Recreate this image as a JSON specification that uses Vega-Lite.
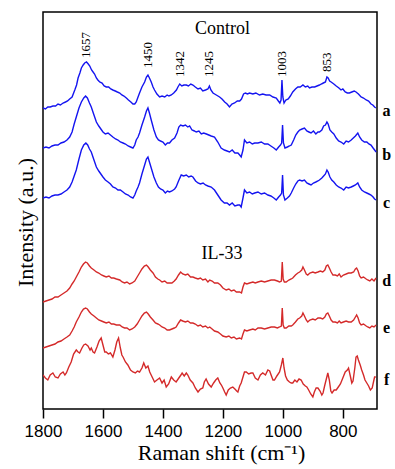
{
"$schema":"https://vega.github.io/schema/vega-lite/v6.json",
"width":334,"height":397,
"autosize":{"type":"none"},
"padding":{"left":43,"top":12,"right":18,"bottom":60},
"config":{"view":{"stroke":"#000","strokeWidth":1.5},"font":"Liberation Serif"},
"layer":[
{"data":{"values":[
{"s":"a","w":1800,"i":301},{"s":"a","w":1792,"i":300},{"s":"a","w":1784,"i":302},{"s":"a","w":1776,"i":302},{"s":"a","w":1767,"i":303},{"s":"a","w":1758,"i":303},{"s":"a","w":1750,"i":305},{"s":"a","w":1742,"i":304},{"s":"a","w":1733,"i":306},{"s":"a","w":1725,"i":307},{"s":"a","w":1718,"i":308},{"s":"a","w":1711,"i":310},{"s":"a","w":1703,"i":312},{"s":"a","w":1694,"i":319},{"s":"a","w":1688,"i":324},{"s":"a","w":1683,"i":331},{"s":"a","w":1677,"i":336},{"s":"a","w":1672,"i":341},{"s":"a","w":1666,"i":344},{"s":"a","w":1661,"i":346},{"s":"a","w":1655,"i":347},{"s":"a","w":1649,"i":345},{"s":"a","w":1644,"i":343},{"s":"a","w":1638,"i":339},{"s":"a","w":1633,"i":337},{"s":"a","w":1628,"i":335},{"s":"a","w":1622,"i":331},{"s":"a","w":1617,"i":329},{"s":"a","w":1611,"i":327},{"s":"a","w":1603,"i":326},{"s":"a","w":1596,"i":323},{"s":"a","w":1589,"i":322},{"s":"a","w":1581,"i":322},{"s":"a","w":1574,"i":320},{"s":"a","w":1567,"i":319},{"s":"a","w":1559,"i":318},{"s":"a","w":1552,"i":317},{"s":"a","w":1544,"i":316},{"s":"a","w":1537,"i":314},{"s":"a","w":1530,"i":313},{"s":"a","w":1522,"i":311},{"s":"a","w":1515,"i":309},{"s":"a","w":1507,"i":307},{"s":"a","w":1500,"i":305},{"s":"a","w":1494,"i":305},{"s":"a","w":1489,"i":307},{"s":"a","w":1483,"i":312},{"s":"a","w":1478,"i":316},{"s":"a","w":1470,"i":322},{"s":"a","w":1461,"i":327},{"s":"a","w":1455,"i":332},{"s":"a","w":1450,"i":334},{"s":"a","w":1445,"i":331},{"s":"a","w":1439,"i":327},{"s":"a","w":1433,"i":322},{"s":"a","w":1428,"i":319},{"s":"a","w":1420,"i":315},{"s":"a","w":1411,"i":312},{"s":"a","w":1403,"i":313},{"s":"a","w":1394,"i":312},{"s":"a","w":1386,"i":314},{"s":"a","w":1380,"i":313},{"s":"a","w":1372,"i":314},{"s":"a","w":1364,"i":316},{"s":"a","w":1355,"i":319},{"s":"a","w":1350,"i":322},{"s":"a","w":1344,"i":325},{"s":"a","w":1337,"i":323},{"s":"a","w":1330,"i":324},{"s":"a","w":1322,"i":324},{"s":"a","w":1315,"i":323},{"s":"a","w":1307,"i":325},{"s":"a","w":1300,"i":324},{"s":"a","w":1292,"i":322},{"s":"a","w":1283,"i":320},{"s":"a","w":1275,"i":321},{"s":"a","w":1267,"i":318},{"s":"a","w":1258,"i":319},{"s":"a","w":1250,"i":320},{"s":"a","w":1245,"i":323},{"s":"a","w":1240,"i":319},{"s":"a","w":1233,"i":316},{"s":"a","w":1222,"i":314},{"s":"a","w":1211,"i":312},{"s":"a","w":1203,"i":310},{"s":"a","w":1194,"i":307},{"s":"a","w":1186,"i":305},{"s":"a","w":1178,"i":302},{"s":"a","w":1170,"i":305},{"s":"a","w":1161,"i":306},{"s":"a","w":1152,"i":308},{"s":"a","w":1144,"i":308},{"s":"a","w":1138,"i":310},{"s":"a","w":1131,"i":315},{"s":"a","w":1125,"i":316},{"s":"a","w":1118,"i":315},{"s":"a","w":1111,"i":316},{"s":"a","w":1100,"i":315},{"s":"a","w":1090,"i":316},{"s":"a","w":1078,"i":314},{"s":"a","w":1067,"i":315},{"s":"a","w":1056,"i":314},{"s":"a","w":1044,"i":314},{"s":"a","w":1033,"i":312},{"s":"a","w":1022,"i":311},{"s":"a","w":1015,"i":308},{"s":"a","w":1010,"i":306},{"s":"a","w":1006,"i":309},{"s":"a","w":1003,"i":329},{"s":"a","w":1000,"i":312},{"s":"a","w":996,"i":306},{"s":"a","w":990,"i":309},{"s":"a","w":982,"i":310},{"s":"a","w":975,"i":313},{"s":"a","w":967,"i":317},{"s":"a","w":958,"i":320},{"s":"a","w":950,"i":322},{"s":"a","w":942,"i":322},{"s":"a","w":933,"i":324},{"s":"a","w":925,"i":322},{"s":"a","w":917,"i":323},{"s":"a","w":911,"i":321},{"s":"a","w":903,"i":322},{"s":"a","w":894,"i":322},{"s":"a","w":886,"i":323},{"s":"a","w":878,"i":324},{"s":"a","w":872,"i":325},{"s":"a","w":865,"i":326},{"s":"a","w":858,"i":327},{"s":"a","w":853,"i":332},{"s":"a","w":849,"i":331},{"s":"a","w":844,"i":328},{"s":"a","w":839,"i":327},{"s":"a","w":830,"i":325},{"s":"a","w":822,"i":323},{"s":"a","w":813,"i":321},{"s":"a","w":806,"i":319},{"s":"a","w":800,"i":320},{"s":"a","w":792,"i":317},{"s":"a","w":785,"i":316},{"s":"a","w":778,"i":316},{"s":"a","w":770,"i":317},{"s":"a","w":762,"i":318},{"s":"a","w":756,"i":317},{"s":"a","w":748,"i":315},{"s":"a","w":739,"i":312},{"s":"a","w":731,"i":311},{"s":"a","w":722,"i":309},{"s":"a","w":714,"i":308},{"s":"a","w":706,"i":305},{"s":"a","w":700,"i":304},{"s":"a","w":694,"i":302},{"s":"a","w":690,"i":301},
{"s":"b","w":1800,"i":261},{"s":"b","w":1790,"i":262},{"s":"b","w":1780,"i":261},{"s":"b","w":1770,"i":263},{"s":"b","w":1760,"i":264},{"s":"b","w":1750,"i":264},{"s":"b","w":1740,"i":266},{"s":"b","w":1730,"i":267},{"s":"b","w":1720,"i":269},{"s":"b","w":1711,"i":272},{"s":"b","w":1703,"i":277},{"s":"b","w":1696,"i":285},{"s":"b","w":1689,"i":292},{"s":"b","w":1680,"i":301},{"s":"b","w":1672,"i":307},{"s":"b","w":1664,"i":311},{"s":"b","w":1658,"i":313},{"s":"b","w":1652,"i":311},{"s":"b","w":1645,"i":306},{"s":"b","w":1639,"i":302},{"s":"b","w":1630,"i":294},{"s":"b","w":1622,"i":287},{"s":"b","w":1614,"i":283},{"s":"b","w":1607,"i":280},{"s":"b","w":1600,"i":277},{"s":"b","w":1592,"i":275},{"s":"b","w":1583,"i":276},{"s":"b","w":1575,"i":274},{"s":"b","w":1567,"i":272},{"s":"b","w":1558,"i":270},{"s":"b","w":1550,"i":269},{"s":"b","w":1542,"i":267},{"s":"b","w":1533,"i":266},{"s":"b","w":1525,"i":265},{"s":"b","w":1516,"i":263},{"s":"b","w":1508,"i":262},{"s":"b","w":1500,"i":261},{"s":"b","w":1494,"i":264},{"s":"b","w":1489,"i":269},{"s":"b","w":1483,"i":272},{"s":"b","w":1478,"i":276},{"s":"b","w":1470,"i":284},{"s":"b","w":1461,"i":292},{"s":"b","w":1455,"i":298},{"s":"b","w":1450,"i":301},{"s":"b","w":1445,"i":296},{"s":"b","w":1439,"i":289},{"s":"b","w":1430,"i":279},{"s":"b","w":1422,"i":272},{"s":"b","w":1415,"i":269},{"s":"b","w":1408,"i":268},{"s":"b","w":1400,"i":267},{"s":"b","w":1392,"i":264},{"s":"b","w":1385,"i":266},{"s":"b","w":1378,"i":266},{"s":"b","w":1370,"i":269},{"s":"b","w":1361,"i":271},{"s":"b","w":1353,"i":276},{"s":"b","w":1347,"i":282},{"s":"b","w":1341,"i":284},{"s":"b","w":1333,"i":283},{"s":"b","w":1325,"i":284},{"s":"b","w":1317,"i":282},{"s":"b","w":1311,"i":283},{"s":"b","w":1303,"i":279},{"s":"b","w":1295,"i":278},{"s":"b","w":1289,"i":277},{"s":"b","w":1280,"i":278},{"s":"b","w":1272,"i":275},{"s":"b","w":1264,"i":276},{"s":"b","w":1255,"i":275},{"s":"b","w":1247,"i":274},{"s":"b","w":1239,"i":273},{"s":"b","w":1228,"i":272},{"s":"b","w":1217,"i":267},{"s":"b","w":1206,"i":261},{"s":"b","w":1195,"i":259},{"s":"b","w":1186,"i":258},{"s":"b","w":1178,"i":257},{"s":"b","w":1169,"i":259},{"s":"b","w":1160,"i":256},{"s":"b","w":1150,"i":256},{"s":"b","w":1144,"i":254},{"s":"b","w":1139,"i":252},{"s":"b","w":1133,"i":259},{"s":"b","w":1128,"i":269},{"s":"b","w":1120,"i":266},{"s":"b","w":1111,"i":267},{"s":"b","w":1102,"i":265},{"s":"b","w":1094,"i":266},{"s":"b","w":1083,"i":266},{"s":"b","w":1072,"i":267},{"s":"b","w":1061,"i":265},{"s":"b","w":1050,"i":265},{"s":"b","w":1040,"i":263},{"s":"b","w":1030,"i":261},{"s":"b","w":1022,"i":259},{"s":"b","w":1014,"i":262},{"s":"b","w":1008,"i":264},{"s":"b","w":1004,"i":266},{"s":"b","w":1001,"i":284},{"s":"b","w":998,"i":266},{"s":"b","w":993,"i":261},{"s":"b","w":985,"i":262},{"s":"b","w":978,"i":263},{"s":"b","w":972,"i":264},{"s":"b","w":964,"i":269},{"s":"b","w":957,"i":274},{"s":"b","w":950,"i":277},{"s":"b","w":944,"i":279},{"s":"b","w":936,"i":280},{"s":"b","w":928,"i":281},{"s":"b","w":920,"i":278},{"s":"b","w":913,"i":277},{"s":"b","w":906,"i":276},{"s":"b","w":898,"i":278},{"s":"b","w":890,"i":275},{"s":"b","w":883,"i":277},{"s":"b","w":878,"i":277},{"s":"b","w":870,"i":279},{"s":"b","w":864,"i":283},{"s":"b","w":858,"i":284},{"s":"b","w":853,"i":287},{"s":"b","w":849,"i":285},{"s":"b","w":843,"i":279},{"s":"b","w":837,"i":277},{"s":"b","w":830,"i":275},{"s":"b","w":822,"i":271},{"s":"b","w":814,"i":268},{"s":"b","w":806,"i":267},{"s":"b","w":797,"i":265},{"s":"b","w":789,"i":268},{"s":"b","w":781,"i":267},{"s":"b","w":772,"i":269},{"s":"b","w":765,"i":271},{"s":"b","w":758,"i":273},{"s":"b","w":750,"i":276},{"s":"b","w":744,"i":272},{"s":"b","w":737,"i":269},{"s":"b","w":728,"i":267},{"s":"b","w":720,"i":267},{"s":"b","w":713,"i":265},{"s":"b","w":706,"i":264},{"s":"b","w":699,"i":261},{"s":"b","w":694,"i":259},{"s":"b","w":689,"i":257},
{"s":"c","w":1800,"i":211},{"s":"c","w":1790,"i":212},{"s":"c","w":1780,"i":211},{"s":"c","w":1770,"i":213},{"s":"c","w":1760,"i":214},{"s":"c","w":1750,"i":214},{"s":"c","w":1740,"i":215},{"s":"c","w":1730,"i":217},{"s":"c","w":1720,"i":219},{"s":"c","w":1711,"i":222},{"s":"c","w":1703,"i":227},{"s":"c","w":1696,"i":233},{"s":"c","w":1689,"i":239},{"s":"c","w":1680,"i":250},{"s":"c","w":1672,"i":259},{"s":"c","w":1664,"i":264},{"s":"c","w":1657,"i":266},{"s":"c","w":1651,"i":264},{"s":"c","w":1645,"i":260},{"s":"c","w":1639,"i":257},{"s":"c","w":1630,"i":249},{"s":"c","w":1622,"i":242},{"s":"c","w":1614,"i":238},{"s":"c","w":1607,"i":235},{"s":"c","w":1600,"i":232},{"s":"c","w":1592,"i":229},{"s":"c","w":1583,"i":227},{"s":"c","w":1575,"i":225},{"s":"c","w":1567,"i":222},{"s":"c","w":1558,"i":221},{"s":"c","w":1550,"i":219},{"s":"c","w":1542,"i":219},{"s":"c","w":1533,"i":217},{"s":"c","w":1525,"i":215},{"s":"c","w":1516,"i":214},{"s":"c","w":1508,"i":212},{"s":"c","w":1500,"i":211},{"s":"c","w":1494,"i":214},{"s":"c","w":1489,"i":218},{"s":"c","w":1483,"i":222},{"s":"c","w":1478,"i":226},{"s":"c","w":1470,"i":235},{"s":"c","w":1461,"i":244},{"s":"c","w":1455,"i":250},{"s":"c","w":1450,"i":252},{"s":"c","w":1445,"i":247},{"s":"c","w":1439,"i":241},{"s":"c","w":1430,"i":232},{"s":"c","w":1422,"i":226},{"s":"c","w":1415,"i":222},{"s":"c","w":1408,"i":220},{"s":"c","w":1400,"i":219},{"s":"c","w":1392,"i":216},{"s":"c","w":1385,"i":218},{"s":"c","w":1378,"i":217},{"s":"c","w":1370,"i":218},{"s":"c","w":1361,"i":220},{"s":"c","w":1356,"i":222},{"s":"c","w":1348,"i":228},{"s":"c","w":1339,"i":234},{"s":"c","w":1331,"i":233},{"s":"c","w":1322,"i":234},{"s":"c","w":1314,"i":232},{"s":"c","w":1306,"i":233},{"s":"c","w":1300,"i":232},{"s":"c","w":1291,"i":228},{"s":"c","w":1283,"i":226},{"s":"c","w":1275,"i":225},{"s":"c","w":1266,"i":226},{"s":"c","w":1258,"i":224},{"s":"c","w":1250,"i":223},{"s":"c","w":1239,"i":222},{"s":"c","w":1228,"i":219},{"s":"c","w":1217,"i":214},{"s":"c","w":1206,"i":209},{"s":"c","w":1195,"i":206},{"s":"c","w":1186,"i":206},{"s":"c","w":1178,"i":204},{"s":"c","w":1169,"i":206},{"s":"c","w":1160,"i":203},{"s":"c","w":1150,"i":204},{"s":"c","w":1144,"i":204},{"s":"c","w":1139,"i":202},{"s":"c","w":1133,"i":211},{"s":"c","w":1128,"i":219},{"s":"c","w":1120,"i":216},{"s":"c","w":1111,"i":217},{"s":"c","w":1102,"i":215},{"s":"c","w":1094,"i":216},{"s":"c","w":1083,"i":217},{"s":"c","w":1072,"i":215},{"s":"c","w":1061,"i":216},{"s":"c","w":1050,"i":214},{"s":"c","w":1040,"i":213},{"s":"c","w":1030,"i":211},{"s":"c","w":1022,"i":209},{"s":"c","w":1014,"i":212},{"s":"c","w":1008,"i":214},{"s":"c","w":1004,"i":216},{"s":"c","w":1001,"i":234},{"s":"c","w":998,"i":214},{"s":"c","w":993,"i":209},{"s":"c","w":985,"i":211},{"s":"c","w":978,"i":213},{"s":"c","w":972,"i":216},{"s":"c","w":964,"i":221},{"s":"c","w":957,"i":225},{"s":"c","w":950,"i":228},{"s":"c","w":944,"i":229},{"s":"c","w":936,"i":228},{"s":"c","w":928,"i":229},{"s":"c","w":920,"i":226},{"s":"c","w":913,"i":225},{"s":"c","w":906,"i":224},{"s":"c","w":898,"i":226},{"s":"c","w":890,"i":227},{"s":"c","w":883,"i":228},{"s":"c","w":878,"i":229},{"s":"c","w":870,"i":231},{"s":"c","w":864,"i":233},{"s":"c","w":858,"i":235},{"s":"c","w":853,"i":239},{"s":"c","w":849,"i":237},{"s":"c","w":843,"i":232},{"s":"c","w":837,"i":229},{"s":"c","w":830,"i":227},{"s":"c","w":822,"i":224},{"s":"c","w":814,"i":222},{"s":"c","w":806,"i":221},{"s":"c","w":797,"i":219},{"s":"c","w":789,"i":222},{"s":"c","w":781,"i":221},{"s":"c","w":772,"i":222},{"s":"c","w":765,"i":223},{"s":"c","w":758,"i":224},{"s":"c","w":750,"i":226},{"s":"c","w":744,"i":222},{"s":"c","w":737,"i":219},{"s":"c","w":728,"i":217},{"s":"c","w":720,"i":216},{"s":"c","w":713,"i":215},{"s":"c","w":706,"i":214},{"s":"c","w":699,"i":212},{"s":"c","w":694,"i":210},{"s":"c","w":689,"i":209},
{"s":"d","w":1800,"i":107},{"s":"d","w":1790,"i":108},{"s":"d","w":1780,"i":109},{"s":"d","w":1770,"i":110},{"s":"d","w":1760,"i":112},{"s":"d","w":1750,"i":112},{"s":"d","w":1740,"i":114},{"s":"d","w":1730,"i":116},{"s":"d","w":1720,"i":118},{"s":"d","w":1711,"i":121},{"s":"d","w":1703,"i":125},{"s":"d","w":1696,"i":128},{"s":"d","w":1689,"i":132},{"s":"d","w":1680,"i":137},{"s":"d","w":1672,"i":142},{"s":"d","w":1665,"i":145},{"s":"d","w":1658,"i":147},{"s":"d","w":1652,"i":146},{"s":"d","w":1645,"i":143},{"s":"d","w":1639,"i":141},{"s":"d","w":1630,"i":139},{"s":"d","w":1622,"i":137},{"s":"d","w":1614,"i":136},{"s":"d","w":1605,"i":134},{"s":"d","w":1597,"i":133},{"s":"d","w":1589,"i":132},{"s":"d","w":1580,"i":133},{"s":"d","w":1572,"i":131},{"s":"d","w":1564,"i":131},{"s":"d","w":1555,"i":130},{"s":"d","w":1544,"i":129},{"s":"d","w":1536,"i":127},{"s":"d","w":1528,"i":126},{"s":"d","w":1520,"i":127},{"s":"d","w":1511,"i":125},{"s":"d","w":1503,"i":126},{"s":"d","w":1494,"i":128},{"s":"d","w":1486,"i":132},{"s":"d","w":1478,"i":136},{"s":"d","w":1470,"i":140},{"s":"d","w":1462,"i":143},{"s":"d","w":1455,"i":144},{"s":"d","w":1449,"i":142},{"s":"d","w":1442,"i":139},{"s":"d","w":1433,"i":136},{"s":"d","w":1425,"i":132},{"s":"d","w":1417,"i":130},{"s":"d","w":1411,"i":129},{"s":"d","w":1403,"i":127},{"s":"d","w":1394,"i":128},{"s":"d","w":1386,"i":126},{"s":"d","w":1378,"i":126},{"s":"d","w":1370,"i":126},{"s":"d","w":1362,"i":128},{"s":"d","w":1356,"i":130},{"s":"d","w":1348,"i":134},{"s":"d","w":1341,"i":137},{"s":"d","w":1334,"i":135},{"s":"d","w":1325,"i":134},{"s":"d","w":1317,"i":135},{"s":"d","w":1308,"i":132},{"s":"d","w":1300,"i":132},{"s":"d","w":1292,"i":131},{"s":"d","w":1283,"i":130},{"s":"d","w":1275,"i":131},{"s":"d","w":1267,"i":129},{"s":"d","w":1258,"i":130},{"s":"d","w":1250,"i":127},{"s":"d","w":1244,"i":129},{"s":"d","w":1236,"i":128},{"s":"d","w":1228,"i":126},{"s":"d","w":1217,"i":126},{"s":"d","w":1208,"i":124},{"s":"d","w":1200,"i":121},{"s":"d","w":1189,"i":119},{"s":"d","w":1180,"i":120},{"s":"d","w":1172,"i":118},{"s":"d","w":1163,"i":119},{"s":"d","w":1155,"i":117},{"s":"d","w":1144,"i":117},{"s":"d","w":1138,"i":116},{"s":"d","w":1133,"i":122},{"s":"d","w":1128,"i":126},{"s":"d","w":1120,"i":125},{"s":"d","w":1111,"i":126},{"s":"d","w":1100,"i":127},{"s":"d","w":1092,"i":126},{"s":"d","w":1083,"i":127},{"s":"d","w":1072,"i":128},{"s":"d","w":1061,"i":127},{"s":"d","w":1050,"i":128},{"s":"d","w":1039,"i":129},{"s":"d","w":1028,"i":129},{"s":"d","w":1018,"i":128},{"s":"d","w":1011,"i":127},{"s":"d","w":1005,"i":128},{"s":"d","w":1002,"i":147},{"s":"d","w":999,"i":130},{"s":"d","w":995,"i":127},{"s":"d","w":989,"i":127},{"s":"d","w":980,"i":129},{"s":"d","w":972,"i":130},{"s":"d","w":967,"i":131},{"s":"d","w":958,"i":134},{"s":"d","w":950,"i":136},{"s":"d","w":944,"i":137},{"s":"d","w":937,"i":139},{"s":"d","w":933,"i":142},{"s":"d","w":928,"i":139},{"s":"d","w":922,"i":135},{"s":"d","w":917,"i":134},{"s":"d","w":910,"i":136},{"s":"d","w":900,"i":137},{"s":"d","w":892,"i":136},{"s":"d","w":883,"i":137},{"s":"d","w":875,"i":138},{"s":"d","w":867,"i":137},{"s":"d","w":860,"i":139},{"s":"d","w":855,"i":143},{"s":"d","w":850,"i":144},{"s":"d","w":845,"i":141},{"s":"d","w":839,"i":137},{"s":"d","w":833,"i":134},{"s":"d","w":825,"i":134},{"s":"d","w":818,"i":133},{"s":"d","w":812,"i":135},{"s":"d","w":806,"i":132},{"s":"d","w":798,"i":134},{"s":"d","w":789,"i":135},{"s":"d","w":781,"i":136},{"s":"d","w":772,"i":136},{"s":"d","w":764,"i":137},{"s":"d","w":758,"i":140},{"s":"d","w":754,"i":141},{"s":"d","w":749,"i":138},{"s":"d","w":744,"i":133},{"s":"d","w":739,"i":131},{"s":"d","w":731,"i":132},{"s":"d","w":722,"i":130},{"s":"d","w":717,"i":129},{"s":"d","w":710,"i":128},{"s":"d","w":703,"i":130},{"s":"d","w":696,"i":128},{"s":"d","w":689,"i":131},
{"s":"e","w":1800,"i":61},{"s":"e","w":1790,"i":62},{"s":"e","w":1780,"i":63},{"s":"e","w":1770,"i":64},{"s":"e","w":1760,"i":65},{"s":"e","w":1750,"i":67},{"s":"e","w":1740,"i":68},{"s":"e","w":1730,"i":70},{"s":"e","w":1720,"i":72},{"s":"e","w":1711,"i":74},{"s":"e","w":1703,"i":78},{"s":"e","w":1696,"i":82},{"s":"e","w":1689,"i":87},{"s":"e","w":1680,"i":92},{"s":"e","w":1672,"i":97},{"s":"e","w":1665,"i":100},{"s":"e","w":1658,"i":101},{"s":"e","w":1652,"i":100},{"s":"e","w":1645,"i":97},{"s":"e","w":1639,"i":95},{"s":"e","w":1630,"i":93},{"s":"e","w":1622,"i":91},{"s":"e","w":1614,"i":89},{"s":"e","w":1605,"i":88},{"s":"e","w":1597,"i":87},{"s":"e","w":1589,"i":86},{"s":"e","w":1580,"i":87},{"s":"e","w":1572,"i":85},{"s":"e","w":1564,"i":85},{"s":"e","w":1555,"i":84},{"s":"e","w":1544,"i":84},{"s":"e","w":1536,"i":82},{"s":"e","w":1528,"i":81},{"s":"e","w":1520,"i":81},{"s":"e","w":1511,"i":79},{"s":"e","w":1503,"i":80},{"s":"e","w":1494,"i":82},{"s":"e","w":1486,"i":85},{"s":"e","w":1478,"i":89},{"s":"e","w":1470,"i":93},{"s":"e","w":1462,"i":96},{"s":"e","w":1455,"i":97},{"s":"e","w":1449,"i":95},{"s":"e","w":1442,"i":92},{"s":"e","w":1433,"i":89},{"s":"e","w":1425,"i":86},{"s":"e","w":1417,"i":85},{"s":"e","w":1411,"i":84},{"s":"e","w":1403,"i":82},{"s":"e","w":1394,"i":81},{"s":"e","w":1386,"i":79},{"s":"e","w":1378,"i":79},{"s":"e","w":1370,"i":80},{"s":"e","w":1362,"i":81},{"s":"e","w":1356,"i":82},{"s":"e","w":1348,"i":86},{"s":"e","w":1341,"i":89},{"s":"e","w":1334,"i":88},{"s":"e","w":1325,"i":87},{"s":"e","w":1317,"i":88},{"s":"e","w":1308,"i":86},{"s":"e","w":1300,"i":86},{"s":"e","w":1292,"i":85},{"s":"e","w":1283,"i":83},{"s":"e","w":1275,"i":84},{"s":"e","w":1267,"i":82},{"s":"e","w":1258,"i":83},{"s":"e","w":1250,"i":81},{"s":"e","w":1244,"i":82},{"s":"e","w":1236,"i":80},{"s":"e","w":1228,"i":78},{"s":"e","w":1217,"i":77},{"s":"e","w":1208,"i":75},{"s":"e","w":1200,"i":73},{"s":"e","w":1189,"i":72},{"s":"e","w":1180,"i":73},{"s":"e","w":1172,"i":71},{"s":"e","w":1163,"i":72},{"s":"e","w":1155,"i":70},{"s":"e","w":1144,"i":71},{"s":"e","w":1138,"i":70},{"s":"e","w":1133,"i":75},{"s":"e","w":1128,"i":79},{"s":"e","w":1120,"i":78},{"s":"e","w":1111,"i":79},{"s":"e","w":1100,"i":80},{"s":"e","w":1092,"i":79},{"s":"e","w":1083,"i":81},{"s":"e","w":1072,"i":81},{"s":"e","w":1061,"i":80},{"s":"e","w":1050,"i":81},{"s":"e","w":1039,"i":82},{"s":"e","w":1028,"i":82},{"s":"e","w":1018,"i":81},{"s":"e","w":1011,"i":82},{"s":"e","w":1005,"i":83},{"s":"e","w":1002,"i":101},{"s":"e","w":999,"i":84},{"s":"e","w":995,"i":81},{"s":"e","w":989,"i":81},{"s":"e","w":980,"i":83},{"s":"e","w":972,"i":83},{"s":"e","w":967,"i":84},{"s":"e","w":958,"i":87},{"s":"e","w":950,"i":90},{"s":"e","w":944,"i":91},{"s":"e","w":937,"i":93},{"s":"e","w":933,"i":96},{"s":"e","w":928,"i":93},{"s":"e","w":922,"i":89},{"s":"e","w":917,"i":87},{"s":"e","w":910,"i":89},{"s":"e","w":900,"i":90},{"s":"e","w":892,"i":89},{"s":"e","w":883,"i":91},{"s":"e","w":875,"i":91},{"s":"e","w":867,"i":90},{"s":"e","w":860,"i":92},{"s":"e","w":855,"i":95},{"s":"e","w":850,"i":96},{"s":"e","w":845,"i":93},{"s":"e","w":839,"i":89},{"s":"e","w":833,"i":87},{"s":"e","w":825,"i":87},{"s":"e","w":818,"i":86},{"s":"e","w":812,"i":88},{"s":"e","w":806,"i":86},{"s":"e","w":798,"i":87},{"s":"e","w":789,"i":88},{"s":"e","w":781,"i":87},{"s":"e","w":772,"i":87},{"s":"e","w":764,"i":89},{"s":"e","w":758,"i":92},{"s":"e","w":754,"i":94},{"s":"e","w":749,"i":91},{"s":"e","w":744,"i":86},{"s":"e","w":739,"i":84},{"s":"e","w":731,"i":85},{"s":"e","w":722,"i":83},{"s":"e","w":717,"i":82},{"s":"e","w":710,"i":81},{"s":"e","w":703,"i":83},{"s":"e","w":696,"i":82},{"s":"e","w":689,"i":84},
{"s":"f","w":1800,"i":34},{"s":"f","w":1792,"i":31},{"s":"f","w":1784,"i":29},{"s":"f","w":1776,"i":34},{"s":"f","w":1767,"i":36},{"s":"f","w":1759,"i":32},{"s":"f","w":1750,"i":31},{"s":"f","w":1742,"i":35},{"s":"f","w":1733,"i":37},{"s":"f","w":1727,"i":34},{"s":"f","w":1722,"i":36},{"s":"f","w":1714,"i":42},{"s":"f","w":1706,"i":47},{"s":"f","w":1698,"i":55},{"s":"f","w":1689,"i":59},{"s":"f","w":1683,"i":57},{"s":"f","w":1678,"i":56},{"s":"f","w":1670,"i":61},{"s":"f","w":1664,"i":64},{"s":"f","w":1658,"i":65},{"s":"f","w":1650,"i":63},{"s":"f","w":1643,"i":59},{"s":"f","w":1639,"i":61},{"s":"f","w":1633,"i":57},{"s":"f","w":1628,"i":56},{"s":"f","w":1620,"i":62},{"s":"f","w":1613,"i":68},{"s":"f","w":1606,"i":71},{"s":"f","w":1600,"i":64},{"s":"f","w":1594,"i":57},{"s":"f","w":1589,"i":57},{"s":"f","w":1582,"i":55},{"s":"f","w":1575,"i":56},{"s":"f","w":1567,"i":52},{"s":"f","w":1560,"i":59},{"s":"f","w":1554,"i":67},{"s":"f","w":1548,"i":71},{"s":"f","w":1542,"i":61},{"s":"f","w":1537,"i":54},{"s":"f","w":1533,"i":52},{"s":"f","w":1525,"i":47},{"s":"f","w":1517,"i":44},{"s":"f","w":1508,"i":39},{"s":"f","w":1500,"i":37},{"s":"f","w":1492,"i":36},{"s":"f","w":1485,"i":38},{"s":"f","w":1478,"i":37},{"s":"f","w":1470,"i":41},{"s":"f","w":1464,"i":46},{"s":"f","w":1457,"i":41},{"s":"f","w":1450,"i":43},{"s":"f","w":1444,"i":37},{"s":"f","w":1436,"i":32},{"s":"f","w":1428,"i":27},{"s":"f","w":1420,"i":29},{"s":"f","w":1411,"i":31},{"s":"f","w":1403,"i":26},{"s":"f","w":1396,"i":29},{"s":"f","w":1389,"i":22},{"s":"f","w":1381,"i":25},{"s":"f","w":1372,"i":32},{"s":"f","w":1364,"i":29},{"s":"f","w":1356,"i":27},{"s":"f","w":1347,"i":31},{"s":"f","w":1340,"i":34},{"s":"f","w":1336,"i":36},{"s":"f","w":1329,"i":33},{"s":"f","w":1322,"i":36},{"s":"f","w":1317,"i":34},{"s":"f","w":1309,"i":29},{"s":"f","w":1300,"i":26},{"s":"f","w":1292,"i":21},{"s":"f","w":1283,"i":17},{"s":"f","w":1275,"i":20},{"s":"f","w":1267,"i":21},{"s":"f","w":1262,"i":27},{"s":"f","w":1256,"i":30},{"s":"f","w":1248,"i":25},{"s":"f","w":1239,"i":22},{"s":"f","w":1231,"i":26},{"s":"f","w":1224,"i":29},{"s":"f","w":1217,"i":31},{"s":"f","w":1210,"i":26},{"s":"f","w":1205,"i":24},{"s":"f","w":1200,"i":21},{"s":"f","w":1194,"i":17},{"s":"f","w":1189,"i":14},{"s":"f","w":1182,"i":19},{"s":"f","w":1175,"i":21},{"s":"f","w":1167,"i":22},{"s":"f","w":1160,"i":20},{"s":"f","w":1154,"i":18},{"s":"f","w":1150,"i":17},{"s":"f","w":1144,"i":23},{"s":"f","w":1139,"i":26},{"s":"f","w":1133,"i":32},{"s":"f","w":1128,"i":37},{"s":"f","w":1122,"i":37},{"s":"f","w":1114,"i":35},{"s":"f","w":1106,"i":36},{"s":"f","w":1100,"i":36},{"s":"f","w":1092,"i":31},{"s":"f","w":1083,"i":29},{"s":"f","w":1075,"i":34},{"s":"f","w":1067,"i":36},{"s":"f","w":1058,"i":34},{"s":"f","w":1050,"i":39},{"s":"f","w":1044,"i":38},{"s":"f","w":1038,"i":33},{"s":"f","w":1033,"i":29},{"s":"f","w":1028,"i":29},{"s":"f","w":1020,"i":33},{"s":"f","w":1011,"i":37},{"s":"f","w":1005,"i":44},{"s":"f","w":1000,"i":51},{"s":"f","w":996,"i":41},{"s":"f","w":991,"i":33},{"s":"f","w":985,"i":29},{"s":"f","w":978,"i":27},{"s":"f","w":972,"i":26},{"s":"f","w":967,"i":26},{"s":"f","w":960,"i":29},{"s":"f","w":953,"i":27},{"s":"f","w":946,"i":30},{"s":"f","w":939,"i":29},{"s":"f","w":932,"i":25},{"s":"f","w":925,"i":23},{"s":"f","w":920,"i":22},{"s":"f","w":914,"i":19},{"s":"f","w":907,"i":15},{"s":"f","w":900,"i":12},{"s":"f","w":895,"i":17},{"s":"f","w":889,"i":21},{"s":"f","w":883,"i":21},{"s":"f","w":876,"i":18},{"s":"f","w":870,"i":14},{"s":"f","w":866,"i":16},{"s":"f","w":860,"i":24},{"s":"f","w":855,"i":30},{"s":"f","w":850,"i":36},{"s":"f","w":845,"i":29},{"s":"f","w":840,"i":18},{"s":"f","w":836,"i":16},{"s":"f","w":829,"i":19},{"s":"f","w":822,"i":19},{"s":"f","w":815,"i":22},{"s":"f","w":808,"i":25},{"s":"f","w":800,"i":31},{"s":"f","w":792,"i":37},{"s":"f","w":785,"i":39},{"s":"f","w":781,"i":41},{"s":"f","w":775,"i":33},{"s":"f","w":770,"i":26},{"s":"f","w":766,"i":28},{"s":"f","w":760,"i":41},{"s":"f","w":756,"i":52},{"s":"f","w":752,"i":53},{"s":"f","w":748,"i":49},{"s":"f","w":742,"i":44},{"s":"f","w":737,"i":39},{"s":"f","w":731,"i":34},{"s":"f","w":726,"i":29},{"s":"f","w":720,"i":26},{"s":"f","w":714,"i":23},{"s":"f","w":708,"i":19},{"s":"f","w":702,"i":21},{"s":"f","w":697,"i":28},{"s":"f","w":694,"i":32},{"s":"f","w":690,"i":32}
]},
"mark":{"type":"line","strokeWidth":1.4,"clip":true},
"encoding":{
"x":{"field":"w","type":"quantitative","scale":{"domain":[686,1800],"reverse":true,"nice":false,"zero":false},
"axis":{"values":[1800,1600,1400,1200,1000,800],"format":"d","labelOverlap":false,"labelFlush":false,"title":"Raman shift (cm⁻¹)","grid":false,"domain":false,"tickSize":9,"tickWidth":1.5,"tickColor":"#000","labelFont":"Liberation Sans","labelFontSize":17,"labelColor":"#000","labelPadding":5,"titleFont":"Liberation Serif","titleFontSize":22,"titleFontWeight":"normal","titleColor":"#000","titleX":178,"titleAlign":"center","titleY":50,"titleBaseline":"alphabetic"}},
"y":{"field":"i","type":"quantitative","scale":{"domain":[0,397],"nice":false,"zero":false},
"axis":{"title":"Intensity (a.u.)","labels":false,"ticks":false,"grid":false,"domain":false,"titleFont":"Liberation Serif","titleFontSize":22,"titleFontWeight":"normal","titleColor":"#000","titleX":-11,"titleY":210,"titleAngle":-90,"titleAlign":"center","titleBaseline":"alphabetic"}},
"color":{"field":"s","type":"nominal","scale":{"domain":["a","b","c","d","e","f"],"range":["#1414f0","#1414f0","#1414f0","#d42a2a","#d42a2a","#d42a2a"]},"legend":null}
}},
{"data":{"values":[{"w":1657,"i":351,"t":"1657"},{"w":1450,"i":341,"t":"1450"},{"w":1342,"i":332,"t":"1342"},{"w":1245,"i":332,"t":"1245"},{"w":1003,"i":332,"t":"1003"},{"w":853,"i":337,"t":"853"}]},
"mark":{"type":"text","angle":270,"align":"left","baseline":"middle","font":"Liberation Serif","fontSize":13,"color":"#000"},
"encoding":{"x":{"field":"w","type":"quantitative"},"y":{"field":"i","type":"quantitative"},"text":{"field":"t"}}},
{"data":{"values":[{"w":1201,"i":375,"t":"Control"},{"w":1203,"i":150,"t":"IL-33"}]},
"mark":{"type":"text","align":"center","baseline":"alphabetic","font":"Liberation Serif","fontSize":18,"color":"#000"},
"encoding":{"x":{"field":"w","type":"quantitative"},"y":{"field":"i","type":"quantitative"},"text":{"field":"t"}}},
{"data":{"values":[{"w":654,"i":298,"t":"a"},{"w":654,"i":254,"t":"b"},{"w":654,"i":206,"t":"c"},{"w":654,"i":128,"t":"d"},{"w":654,"i":81,"t":"e"},{"w":654,"i":29,"t":"f"}]},
"mark":{"type":"text","align":"center","baseline":"middle","font":"Liberation Serif","fontSize":16,"fontWeight":"bold","color":"#000","clip":false},
"encoding":{"x":{"field":"w","type":"quantitative"},"y":{"field":"i","type":"quantitative"},"text":{"field":"t"}}}
]
}
